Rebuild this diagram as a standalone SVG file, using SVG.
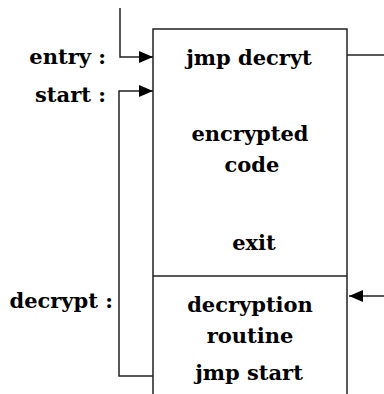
<svg xmlns="http://www.w3.org/2000/svg" width="384" height="394" viewBox="0 0 384 394">
<style>
.t{font-family:'DejaVu Serif',serif;font-weight:700;font-size:21px;fill:#000}
.c{text-anchor:middle}
.l{text-anchor:end}
.ln{fill:none;stroke:#222;stroke-width:1.5}
</style>
<defs>
<marker id="ah" viewBox="0 0 14 12" refX="14" refY="6" markerWidth="14" markerHeight="12" markerUnits="userSpaceOnUse" orient="auto">
<path d="M0,0 L14,6 L0,12 Z" fill="#000"/>
</marker>
</defs>
<rect width="384" height="394" fill="#fff"/>
<g id="memory">
<path class="ln" d="M153,400 V29 H347 V400"/>
<line class="ln" x1="153" y1="276" x2="347" y2="276"/>
</g>
<g id="encrypted-block">
<text class="t c" x="249" y="65">jmp decryt</text>
<text class="t c" x="250" y="141">encrypted</text>
<text class="t c" x="252" y="172">code</text>
<text class="t c" x="254" y="250">exit</text>
</g>
<g id="decryption-block">
<text class="t c" x="250" y="312">decryption</text>
<text class="t c" x="250" y="343">routine</text>
<text class="t c" x="249" y="380">jmp start</text>
</g>
<g id="labels">
<text class="t l" x="106" y="64">entry :</text>
<text class="t l" x="106" y="102">start :</text>
<text class="t l" x="113" y="308">decrypt :</text>
</g>
<g id="connectors">
<path class="ln" d="M120,8 V57 H153" marker-end="url(#ah)"/>
<path class="ln" d="M153,376 H119 V91 H153" marker-end="url(#ah)"/>
<line class="ln" x1="347" y1="55" x2="384" y2="55"/>
<line class="ln" x1="384" y1="296" x2="349" y2="296" marker-end="url(#ah)"/>
</g>
</svg>
